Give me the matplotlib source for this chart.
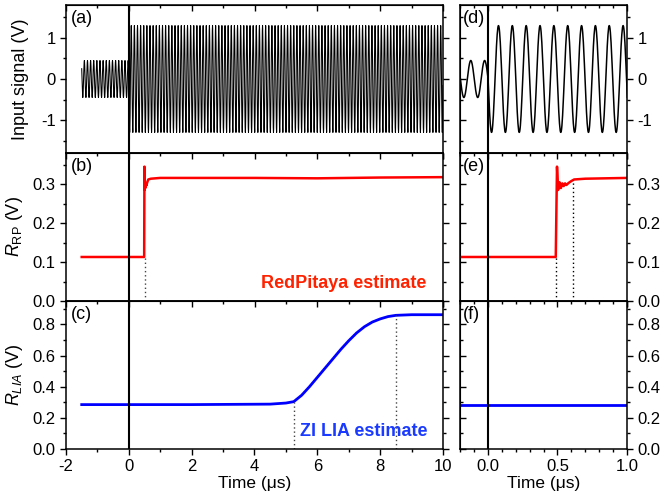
import numpy as np
import matplotlib.pyplot as plt
from matplotlib.ticker import MultipleLocator

plt.rcParams['font.family'] = ['Liberation Sans', 'DejaVu Sans']
plt.rcParams['axes.unicode_minus'] = False
plt.rcParams['mathtext.fontset'] = 'custom'
plt.rcParams['mathtext.rm'] = 'Liberation Sans'
plt.rcParams['mathtext.it'] = 'Liberation Sans:italic'

# Input signal (a) and (d): carrier period, phase and the two amplitudes
sig_edges = [-1.5, 0.0, 10.0]
sig_amps = [0.45, 1.3]
sig_period = 0.0995
sig_peak_t = -0.023

# RedPitaya amplitude estimate (panels b, e)
rp_t = [-1.5, 0.488, 0.497, 0.505, 0.515, 0.525, 0.535, 0.545, 0.555, 0.565,
        0.58, 0.60, 0.62, 0.70, 1.0, 2.0, 4.0, 6.0, 8.0, 10.0]
rp_v = [0.113, 0.113, 0.345, 0.285, 0.305, 0.290, 0.302, 0.295, 0.302, 0.298,
        0.303, 0.308, 0.312, 0.314, 0.316, 0.316, 0.316, 0.315, 0.317, 0.318]

# ZI lock-in amplitude estimate (panels c, f)
lia_t = [-1.5, 2.0, 4.5, 5.0, 5.25, 5.5, 5.75, 6.0, 6.25, 6.5, 6.75, 7.0,
         7.25, 7.5, 7.75, 8.0, 8.25, 8.5, 9.0, 10.0]
lia_v = [0.285, 0.285, 0.288, 0.295, 0.304, 0.345, 0.40, 0.46, 0.52, 0.58, 0.64, 0.695,
         0.745, 0.785, 0.815, 0.835, 0.85, 0.858, 0.862, 0.862]

# dotted guide lines (time, top value)
b_marks = [(0.5, 0.113)]
e_marks = [(0.49, 0.113), (0.61, 0.31)]
c_marks = [(5.25, 0.304), (8.5, 0.858)]

# build the carrier from the read period / amplitudes
t_sig = np.arange(sig_edges[0], sig_edges[-1], sig_period / 40)
amp = np.where(t_sig < sig_edges[1], sig_amps[0], sig_amps[1])
v_sig = amp * np.cos(2 * np.pi * (t_sig - sig_peak_t) / sig_period)

fig = plt.figure(figsize=(6.64, 5.01), dpi=100)

W, H = 664, 501
left_x, left_w = 66 / W, 377 / W
right_x, right_w = 460 / W, 167 / W
row_h = 148 / H
bottoms = [(H - 153) / H, (H - 301) / H, (H - 449) / H]

ylims = [(-1.8, 1.8), (0, 0.38), (0, 0.95)]
ymaj = [1, 0.1, 0.2]
ymin = [0.5, 0.05, 0.1]
yfmt = ['%.0f', '%.1f', '%.1f']

axL, axR = [], []
for i in range(3):
    aL = fig.add_axes([left_x, bottoms[i], left_w, row_h])
    aR = fig.add_axes([right_x, bottoms[i], right_w, row_h])
    axL.append(aL)
    axR.append(aR)

for i in range(3):
    for j, ax in enumerate([axL[i], axR[i]]):
        ax.set_ylim(*ylims[i])
        ax.yaxis.set_major_locator(MultipleLocator(ymaj[i]))
        ax.yaxis.set_minor_locator(MultipleLocator(ymin[i]))
        ax.yaxis.set_major_formatter(plt.FormatStrFormatter(yfmt[i]))
        if j == 0:
            ax.set_xlim(-2, 10)
            ax.xaxis.set_major_locator(MultipleLocator(2))
            ax.xaxis.set_minor_locator(MultipleLocator(1))
            ax.tick_params(axis='y', which='both', direction='out', left=True, right=True)
        else:
            ax.set_xlim(-0.2, 1.0)
            ax.xaxis.set_major_locator(MultipleLocator(0.5))
            ax.xaxis.set_minor_locator(MultipleLocator(0.1))
            ax.yaxis.tick_right()
            ax.tick_params(axis='y', which='both', direction='out', left=False, right=True)
            sec = ax.secondary_yaxis('left')
            sec.yaxis.set_major_locator(MultipleLocator(ymaj[i]))
            sec.yaxis.set_minor_locator(MultipleLocator(ymin[i]))
            sec.tick_params(which='both', direction='in', labelleft=False)
            sec.tick_params(which='major', length=4, width=1)
            sec.tick_params(which='minor', length=2.5, width=1)
        ax.tick_params(axis='x', which='both', direction='out', top=False)
        ax.tick_params(which='major', length=4, width=1, labelsize=12)
        ax.tick_params(which='minor', length=2.5, width=1)
        top = ax.secondary_xaxis('top')
        top.xaxis.set_major_locator(ax.xaxis.get_major_locator())
        top.xaxis.set_minor_locator(ax.xaxis.get_minor_locator())
        top.tick_params(which='both', direction='in', labeltop=False)
        top.tick_params(which='major', length=4, width=1)
        top.tick_params(which='minor', length=2.5, width=1)
        if i < 2:
            ax.tick_params(axis='x', labelbottom=False)
        else:
            ax.set_xlabel('Time (\u03bcs)', fontsize=12.5, labelpad=1)
        for s in ax.spines.values():
            s.set_linewidth(1.1)
        ax.axvline(0, color='black', lw=1.5, zorder=3)

# panel (a), (d): input signal
for ax, lw in [(axL[0], 0.75), (axR[0], 1.1)]:
    ax.plot(t_sig, v_sig, color='black', lw=lw)

# panels (b), (e)
for ax in [axL[1], axR[1]]:
    ax.plot(rp_t, rp_v, color='red', lw=1.8)
for tm, vm in b_marks:
    axL[1].plot([tm, tm], [0, vm], color='#444444', lw=1, ls=(0, (1, 2)))
for tm, vm in e_marks:
    axR[1].plot([tm, tm], [0, vm], color='black', lw=1, ls=(0, (1, 2)))

# panels (c), (f)
for ax in [axL[2], axR[2]]:
    ax.plot(lia_t, lia_v, color='blue', lw=2)
for tm, vm in c_marks:
    axL[2].plot([tm, tm], [0, vm], color='#444444', lw=1, ls=(0, (1, 2)))

axL[0].set_ylabel('Input signal (V)', fontsize=13)
axL[1].set_ylabel(r'$R_{\rm RP}$ (V)', fontsize=13)
axL[2].set_ylabel(r'$R_{LIA}$ (V)', fontsize=13)
axL[0].yaxis.set_label_coords(-0.097, 0.5)
axL[1].yaxis.set_label_coords(-0.11, 0.5)
axL[2].yaxis.set_label_coords(-0.11, 0.5)

for ax, lab in zip(axL, ['(a)', '(b)', '(c)']):
    ax.text(0.012, 0.965, lab, transform=ax.transAxes, fontsize=13, va='top', ha='left')
for ax, lab in zip(axR, ['(d)', '(e)', '(f)']):
    ax.text(0.02, 0.965, lab, transform=ax.transAxes, fontsize=13, va='top', ha='left')

axL[1].text(0.957, 0.09, 'RedPitaya estimate', transform=axL[1].transAxes,
            fontsize=13, fontweight='bold', color='#ff2200', ha='right', va='baseline')
axL[2].text(0.958, 0.09, 'ZI LIA estimate', transform=axL[2].transAxes,
            fontsize=13, fontweight='bold', color='#1a3aff', ha='right', va='baseline')

fig.savefig('out.png', dpi=100)
